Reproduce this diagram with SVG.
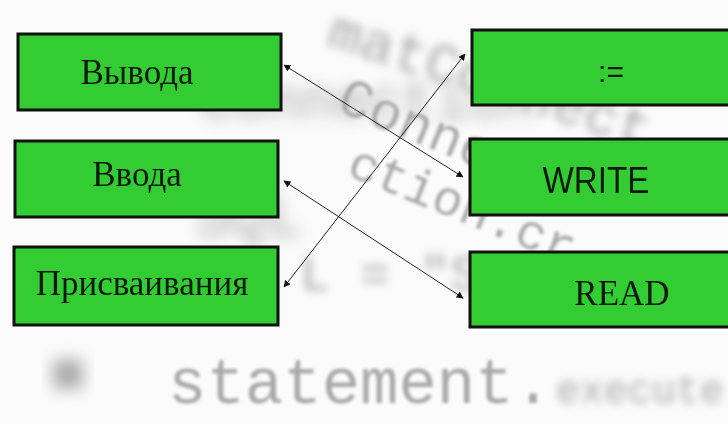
<svg xmlns="http://www.w3.org/2000/svg" width="728" height="424" viewBox="0 0 728 424">
  <style>
    .box { fill: #33cc33; stroke: #111; stroke-width: 3; }
    .serif { font-family: "Liberation Serif", "Times New Roman", serif; font-size: 35px; fill: #0a1a0a; text-anchor: middle; }
    .sans { font-family: "Liberation Sans", Arial, sans-serif; fill: #0a1a0a; text-anchor: middle; }
    .conn { stroke: #222; stroke-width: 1; fill: none; marker-start: url(#ah); marker-end: url(#ah); }
    .bg { font-family: "Liberation Mono", "Courier New", monospace; fill: #8f8f8f; }
  </style>
  <defs>
    <marker id="ah" viewBox="0 0 10 10" refX="9" refY="5" markerWidth="7" markerHeight="7" markerUnits="userSpaceOnUse" orient="auto-start-reverse">
      <path d="M0,0 L10,5 L0,10 z" fill="#111"/>
    </marker>
    <filter id="b1" x="-20%" y="-50%" width="140%" height="200%"><feGaussianBlur stdDeviation="1.6"/></filter>
    <filter id="b2" x="-20%" y="-50%" width="140%" height="200%"><feGaussianBlur stdDeviation="4"/></filter>
    <filter id="b3" x="-20%" y="-50%" width="140%" height="200%"><feGaussianBlur stdDeviation="8"/></filter>
  </defs>
  <rect width="728" height="424" fill="#fbfbfb"/>
  <g id="background" opacity="0.75">
    <text class="bg" x="325" y="45" font-size="56" transform="rotate(18 325 45)" filter="url(#b2)">matConnect</text>
    <text class="bg" x="335" y="110" font-size="54" transform="rotate(22 335 110)" filter="url(#b1)">Connecti</text>
    <text class="bg" x="200" y="118" font-size="56" filter="url(#b3)">Connection</text>
    <text class="bg" x="345" y="175" font-size="50" transform="rotate(22 345 175)" filter="url(#b1)">ction.cr</text>
    <text class="bg" x="195" y="235" font-size="60" filter="url(#b3)">SQL</text>
    <text class="bg" x="300" y="290" font-size="50" filter="url(#b2)">L = "S</text>
    <text class="bg" x="50" y="392" font-size="60" filter="url(#b3)">■</text>
    <text class="bg" x="168" y="403" font-size="64" filter="url(#b1)">statement.</text>
    <text class="bg" x="556" y="403" font-size="40" filter="url(#b2)">execute</text>
  </g>
  <g id="connectors">
    <line class="conn" x1="463" y1="177" x2="284" y2="65"/>
    <line class="conn" x1="463" y1="298" x2="284" y2="181"/>
    <line class="conn" x1="465" y1="54" x2="284" y2="287"/>
  </g>
  <g id="vyvoda">
    <rect class="box" x="18" y="34" width="263" height="76"/>
    <text class="serif" x="137" y="84">Вывода</text>
  </g>
  <g id="vvoda">
    <rect class="box" x="15" y="141" width="263" height="76"/>
    <text class="serif" x="137" y="186">Ввода</text>
  </g>
  <g id="prisvaivaniya">
    <rect class="box" x="14" y="247" width="264" height="78"/>
    <text class="serif" x="142" y="295" font-size="34">Присваивания</text>
  </g>
  <g id="assign">
    <rect class="box" x="472" y="30" width="262" height="75"/>
    <text class="sans" x="611" y="82" font-size="30">:=</text>
  </g>
  <g id="write">
    <rect class="box" x="470" y="139" width="264" height="76"/>
    <text class="sans" x="596" y="193" font-size="36" textLength="107" lengthAdjust="spacingAndGlyphs">WRITE</text>
  </g>
  <g id="read">
    <rect class="box" x="470" y="252" width="264" height="75"/>
    <text class="serif" x="622" y="305" font-size="36">READ</text>
  </g>
</svg>
